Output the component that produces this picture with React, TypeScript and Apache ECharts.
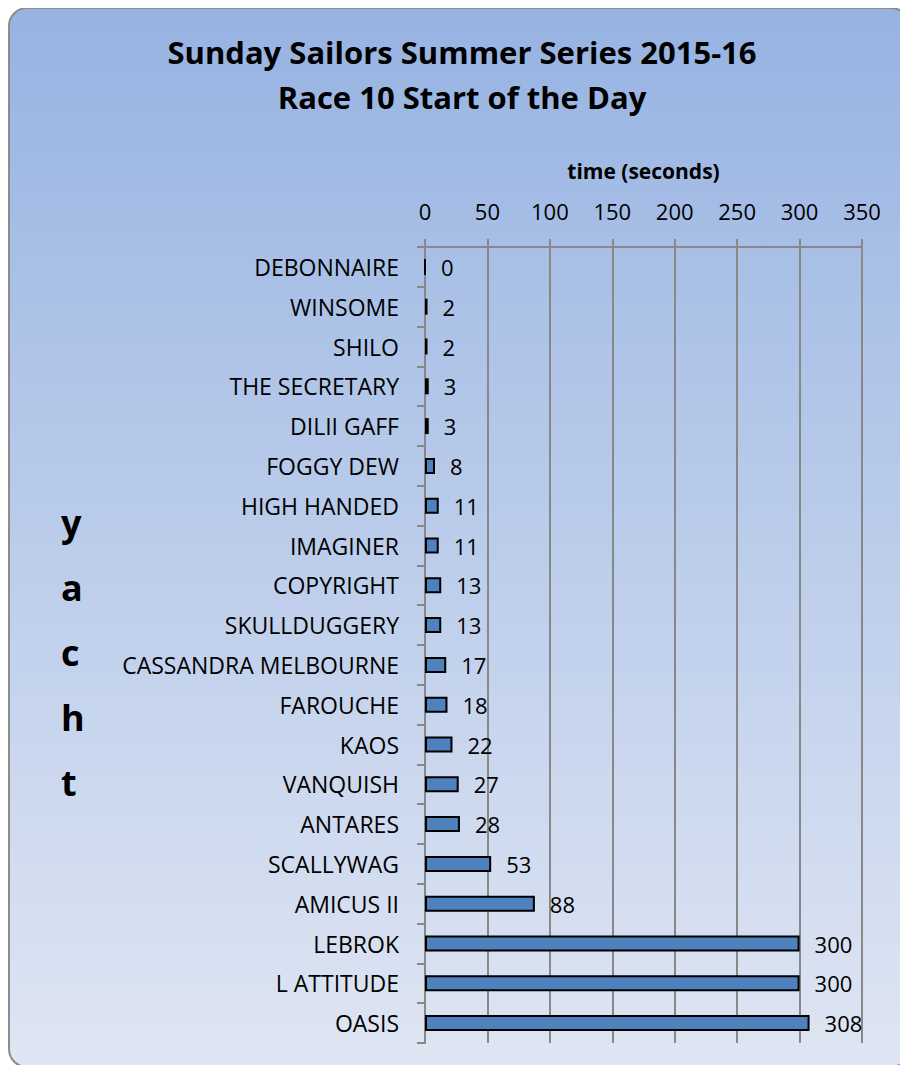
import React, { useEffect, useRef } from "react";
import * as echarts from "echarts";

const yachts = [
  "DEBONNAIRE", "WINSOME", "SHILO", "THE SECRETARY", "DILII GAFF", "FOGGY DEW",
  "HIGH HANDED", "IMAGINER", "COPYRIGHT", "SKULLDUGGERY", "CASSANDRA MELBOURNE",
  "FAROUCHE", "KAOS", "VANQUISH", "ANTARES", "SCALLYWAG", "AMICUS II", "LEBROK",
  "L ATTITUDE", "OASIS",
];
const times = [0, 2, 2, 3, 3, 8, 11, 11, 13, 13, 17, 18, 22, 27, 28, 53, 88, 300, 300, 308];
const titleLines = ["Sunday Sailors Summer Series 2015-16", "Race 10 Start of the Day"];
const xAxisName = "time (seconds)";
const yAxisName = "yacht";

const FONT = "'Open Sans', Lato, sans-serif";

export default function App() {
  const ref = useRef<HTMLDivElement>(null);
  useEffect(() => {
    document.body.style.overflow = "hidden";
    const chart = echarts.init(ref.current!, null, { renderer: "svg" });
    chart.setOption({
      animation: false,
      textStyle: { fontFamily: FONT },
      graphic: [
        {
          type: "rect",
          z: -10,
          shape: { x: 1, y: 0, width: 900, height: 1059, r: 18 },
          style: {
            fill: new echarts.graphic.LinearGradient(0, 0, 0, 1, [
              { offset: 0, color: "#97b3e2" },
              { offset: 1, color: "#dfe6f3" },
            ]),
            stroke: "#8c8c8c",
            lineWidth: 2,
          },
        },
        {
          type: "text",
          left: 53,
          top: 482,
          style: {
            text: yAxisName.split("").join("\n"),
            font: `bold 36px ${FONT}`,
            lineHeight: 65,
            fill: "#000",
            align: "center",
          },
        },
      ],
      title: {
        text: titleLines.join("\n"),
        left: 449,
        textAlign: "center",
        top: 16,
        textStyle: { fontFamily: FONT, fontSize: 31, fontWeight: "bold", color: "#000", lineHeight: 45 },
      },
      grid: { left: 417, top: 239, right: 38, bottom: 22, containLabel: false },
      xAxis: {
        type: "value",
        position: "top",
        min: 0,
        max: 350,
        interval: 50,
        name: xAxisName,
        nameLocation: "middle",
        nameGap: 66,
        nameTextStyle: { fontFamily: FONT, fontSize: 21, fontWeight: "bold", color: "#000" },
        axisLine: { show: true, lineStyle: { color: "#888", width: 2 } },
        axisTick: { show: true, length: 8, lineStyle: { color: "#888", width: 2 } },
        axisLabel: { fontFamily: FONT, fontSize: 22, color: "#000", margin: 25 },
        splitLine: { show: true, lineStyle: { color: "#888", width: 2 } },
      },
      yAxis: {
        type: "category",
        inverse: true,
        data: yachts,
        axisLine: { show: true, lineStyle: { color: "#888", width: 2 } },
        axisTick: { show: true, length: 8, lineStyle: { color: "#888", width: 2 } },
        axisLabel: { fontFamily: FONT, fontSize: 23, color: "#000", margin: 26 },
      },
      series: [
        {
          type: "bar",
          data: times,
          barWidth: 16,
          itemStyle: { color: "#4f81bd", borderColor: "#000", borderWidth: 2 },
          label: {
            show: true,
            position: "right",
            distance: 15,
            fontFamily: FONT,
            fontSize: 22,
            color: "#000",
          },
        },
      ],
    });
    return () => chart.dispose();
  }, []);
  return (
    <div
      ref={ref}
      style={{ position: "absolute", left: 8, top: 8, width: 892, height: 1057 }}
    />
  );
}
